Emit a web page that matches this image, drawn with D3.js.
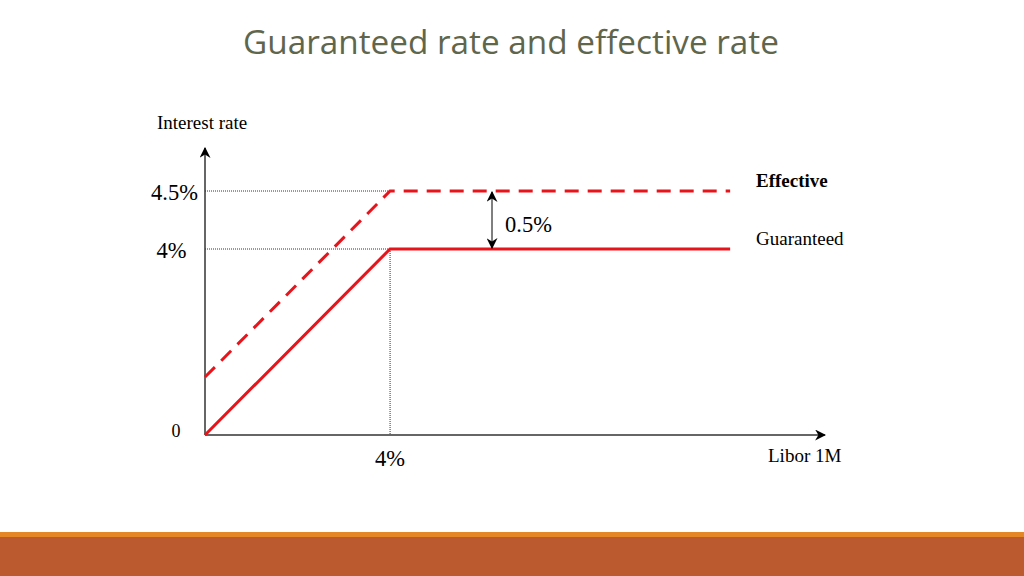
<!DOCTYPE html>
<meta charset="utf-8">
<style>
  body { margin: 0; background: #fff; }
  #chart svg { display: block; }
  .serif { font-family: "Liberation Serif", "Times New Roman", serif; fill: #000; }
  .title { font-family: "Open Sans", "Noto Sans", sans-serif; fill: #5f664c; }
</style>
<body>
  <div id="chart"></div>
  <script src="https://d3js.org/d3.v7.min.js"></script>
  <script>
    // data (schematic, values in %)
    const liborPoints = [0, 4, 11.35];
    const guaranteed = [0, 4, 4];
    const effective = [0.5, 4.5, 4.5];
    const yTicks = [0, 4, 4.5];
    const yTickLabels = ["0", "4%", "4.5%"];
    const xTicks = [4];
    const xTickLabels = ["4%"];
    const spread = "0.5%";

    const width = 1024, height = 576;

    const svg = d3.select("#chart")
      .append("svg")
      .attr("width", width)
      .attr("height", height);

    // schematic chart: the upper part is stretched, so piecewise scale
    const x = d3.scaleLinear().domain([0, 13.4]).range([205, 825]);
    const y = d3.scaleLinear().domain([0, 4, 4.5]).range([435, 249, 191]);
    const shift = y(4) - y(4.5); // effective line drawn parallel to guaranteed

    const defs = svg.append("defs");
    defs.append("marker")
      .attr("id", "arr")
      .attr("viewBox", "0 0 10 10")
      .attr("refX", 9).attr("refY", 5)
      .attr("markerWidth", 11).attr("markerHeight", 11)
      .attr("markerUnits", "userSpaceOnUse")
      .attr("orient", "auto-start-reverse")
      .append("path")
      .attr("d", "M0,0 L10,5 L0,10 L3,5 Z")
      .attr("fill", "#000");

    // title
    svg.append("text")
      .attr("class", "title")
      .attr("x", 511).attr("y", 54)
      .attr("text-anchor", "middle")
      .style("font-size", "33.3px")
      .text("Guaranteed rate and effective rate");

    // dotted guides
    const g = svg.append("g");
    g.selectAll(".hguide")
      .data([4, 4.5])
      .join("line")
      .attr("x1", x(0)).attr("x2", x(4))
      .attr("y1", d => y(d)).attr("y2", d => y(d))
      .attr("stroke", "#333").attr("stroke-width", 1)
      .attr("stroke-dasharray", "1,1");
    g.append("line")
      .attr("x1", x(4)).attr("x2", x(4))
      .attr("y1", y(4)).attr("y2", y(0))
      .attr("stroke", "#333").attr("stroke-width", 1)
      .attr("stroke-dasharray", "1,1");

    // axes
    g.append("line")
      .attr("x1", x(0)).attr("y1", y(0))
      .attr("x2", x(0)).attr("y2", 148)
      .attr("stroke", "#333").attr("stroke-width", 1.5)
      .attr("marker-end", "url(#arr)");
    g.append("line")
      .attr("x1", x(0)).attr("y1", y(0))
      .attr("x2", x(13.4)).attr("y2", y(0))
      .attr("stroke", "#333").attr("stroke-width", 1.5)
      .attr("marker-end", "url(#arr)");

    // lines
    const line = d3.line()
      .x((d, i) => x(liborPoints[i]))
      .y(d => y(d));

    g.append("path")
      .attr("d", line(guaranteed))
      .attr("fill", "none")
      .attr("stroke", "#e8141c").attr("stroke-width", 3);

    const effLine = d3.line()
      .x((d, i) => x(liborPoints[i]))
      .y((d, i) => y(guaranteed[i]) - shift);
    g.append("path")
      .datum(effective)
      .attr("d", effLine)
      .attr("fill", "none")
      .attr("stroke", "#e8141c").attr("stroke-width", 3)
      .attr("stroke-dasharray", "14,9");

    // spread arrow
    g.append("line")
      .attr("x1", 492).attr("x2", 492)
      .attr("y1", y(4.5) + 1).attr("y2", y(4) - 1)
      .attr("stroke", "#000").attr("stroke-width", 1)
      .attr("marker-start", "url(#arr)")
      .attr("marker-end", "url(#arr)");
    g.append("text")
      .attr("class", "serif")
      .attr("x", 505).attr("y", 232)
      .style("font-size", "22.5px")
      .text(spread);

    // tick labels
    g.selectAll(".ytl")
      .data(yTicks)
      .join("text")
      .attr("class", "serif")
      .attr("x", (d, i) => i === 0 ? 176 : (i === 1 ? 171.5 : 174.5))
      .attr("y", d => y(d) + (d === 0 ? 2 : 9))
      .attr("text-anchor", "middle")
      .style("font-size", (d, i) => i === 0 ? "18px" : "22.5px")
      .text((d, i) => yTickLabels[i]);

    g.selectAll(".xtl")
      .data(xTicks)
      .join("text")
      .attr("class", "serif")
      .attr("x", d => x(d))
      .attr("y", 466)
      .attr("text-anchor", "middle")
      .style("font-size", "22.5px")
      .text((d, i) => xTickLabels[i]);

    // axis titles and series labels
    g.append("text").attr("class", "serif")
      .attr("x", 157).attr("y", 129)
      .style("font-size", "19px")
      .text("Interest rate");
    g.append("text").attr("class", "serif")
      .attr("x", 768).attr("y", 462)
      .style("font-size", "19px")
      .text("Libor 1M");
    g.append("text").attr("class", "serif")
      .attr("x", 756).attr("y", 187)
      .style("font-size", "19px").style("font-weight", "bold")
      .text("Effective");
    g.append("text").attr("class", "serif")
      .attr("x", 756).attr("y", 245)
      .style("font-size", "19px")
      .text("Guaranteed");

    // footer band
    svg.append("rect")
      .attr("x", 0).attr("y", 532).attr("width", width).attr("height", 5)
      .attr("fill", "#e48726");
    svg.append("rect")
      .attr("x", 0).attr("y", 537).attr("width", width).attr("height", 39)
      .attr("fill", "#bb5a2e");
  </script>
</body>
